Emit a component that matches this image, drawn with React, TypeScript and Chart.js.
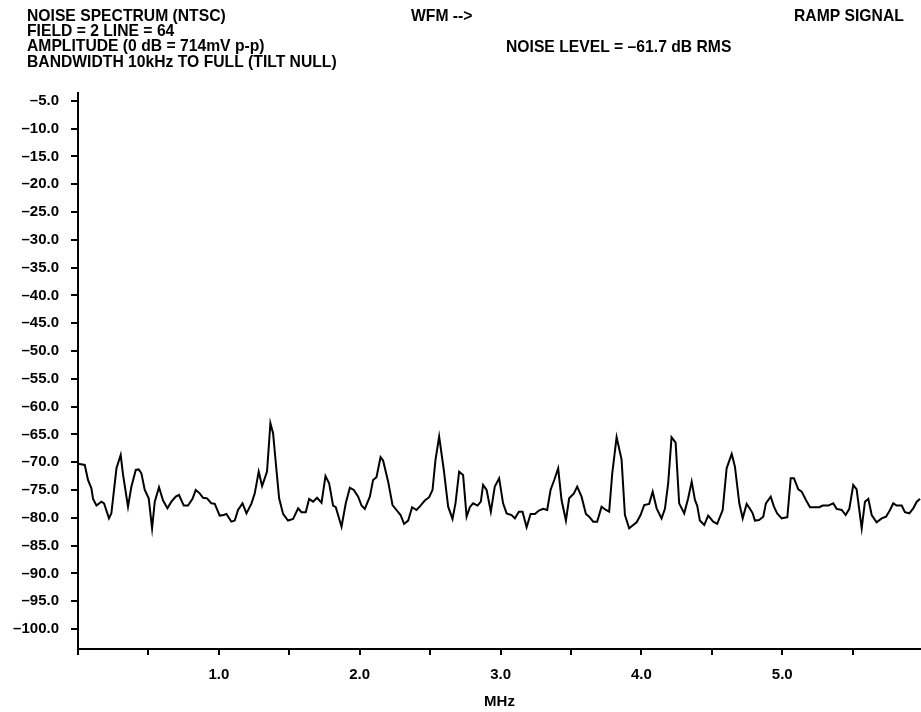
import React, { useEffect, useRef } from "react";
import { Chart, registerables } from "chart.js";

Chart.register(...registerables);

const freqMHz = [
  0.0, 0.048, 0.071, 0.095, 0.107, 0.131, 0.166, 0.185, 0.22, 0.237, 0.273, 0.303, 0.32, 0.355, 0.379, 0.41,
  0.431, 0.45, 0.474, 0.502, 0.526, 0.545, 0.575, 0.604, 0.635, 0.663, 0.694, 0.717, 0.751, 0.781, 0.813, 0.836,
  0.864, 0.888, 0.916, 0.947, 0.971, 1.006, 1.035, 1.054, 1.089, 1.113, 1.136, 1.168, 1.196, 1.232, 1.255, 1.283,
  1.307, 1.342, 1.366, 1.385, 1.409, 1.428, 1.456, 1.491, 1.527, 1.563, 1.587, 1.617, 1.641, 1.669, 1.697, 1.729,
  1.757, 1.783, 1.811, 1.83, 1.871, 1.901, 1.93, 1.958, 1.989, 2.013, 2.036, 2.072, 2.095, 2.119, 2.148, 2.166,
  2.202, 2.233, 2.261, 2.29, 2.315, 2.344, 2.372, 2.403, 2.432, 2.462, 2.493, 2.517, 2.538, 2.564, 2.597, 2.628,
  2.659, 2.68, 2.706, 2.734, 2.759, 2.782, 2.805, 2.837, 2.86, 2.876, 2.901, 2.931, 2.959, 2.99, 3.018, 3.043,
  3.078, 3.102, 3.13, 3.156, 3.185, 3.213, 3.244, 3.272, 3.303, 3.331, 3.355, 3.381, 3.409, 3.433, 3.464, 3.487,
  3.521, 3.544, 3.575, 3.606, 3.629, 3.658, 3.686, 3.717, 3.748, 3.771, 3.793, 3.824, 3.859, 3.883, 3.913, 3.942,
  3.966, 3.994, 4.02, 4.055, 4.08, 4.108, 4.143, 4.167, 4.19, 4.214, 4.243, 4.268, 4.304, 4.332, 4.357, 4.38,
  4.396, 4.415, 4.446, 4.474, 4.51, 4.538, 4.577, 4.605, 4.641, 4.664, 4.695, 4.719, 4.747, 4.771, 4.79, 4.806,
  4.835, 4.865, 4.884, 4.918, 4.941, 4.964, 4.996, 5.036, 5.06, 5.083, 5.114, 5.138, 5.168, 5.197, 5.232, 5.263,
  5.287, 5.327, 5.362, 5.386, 5.422, 5.45, 5.476, 5.504, 5.528, 5.547, 5.564, 5.587, 5.611, 5.635, 5.67, 5.706,
  5.737, 5.765, 5.788, 5.812, 5.848, 5.871, 5.902, 5.93, 5.955, 5.978,
];

const levelDb = [
  -70.3, -70.5, -73.2, -74.7, -76.6, -77.8, -77.1, -77.4, -80.1, -79.2, -71.1, -68.7, -72.3, -78.0, -74.4, -71.4,
  -71.3, -72.0, -75.0, -76.5, -81.9, -77.1, -74.5, -76.9, -78.3, -77.1, -76.2, -75.9, -77.8, -77.8, -76.6, -75.0,
  -75.6, -76.4, -76.5, -77.4, -77.5, -79.6, -79.5, -79.3, -80.7, -80.5, -78.6, -77.4, -79.2, -77.4, -75.6, -71.7,
  -74.3, -71.7, -63.0, -64.8, -71.4, -76.5, -79.3, -80.5, -80.2, -78.3, -79.0, -79.0, -76.6, -77.1, -76.4, -77.3,
  -72.5, -73.8, -77.8, -78.1, -81.6, -77.4, -74.6, -75.0, -76.2, -77.8, -78.4, -76.2, -73.2, -72.7, -69.1, -69.7,
  -73.5, -77.7, -78.6, -79.5, -81.1, -80.5, -78.1, -78.6, -77.8, -76.9, -76.3, -75.0, -69.6, -65.4, -71.4, -78.0,
  -80.2, -77.4, -71.7, -72.3, -79.8, -78.1, -77.4, -77.8, -77.1, -74.1, -75.0, -78.9, -74.4, -72.9, -77.4, -79.2,
  -79.5, -80.1, -78.9, -78.9, -81.7, -79.3, -79.3, -78.7, -78.4, -78.6, -75.0, -73.2, -71.1, -76.8, -80.5, -76.5,
  -75.6, -74.4, -76.2, -79.3, -79.8, -80.7, -80.7, -78.0, -78.6, -78.9, -72.0, -65.5, -69.5, -79.5, -81.9, -81.3,
  -80.8, -79.5, -77.7, -77.5, -75.3, -78.3, -80.1, -78.4, -73.8, -65.5, -66.5, -77.4, -79.2, -76.5, -73.5, -76.8,
  -77.8, -80.5, -81.3, -79.6, -80.7, -81.1, -78.6, -71.1, -68.5, -70.8, -77.4, -80.1, -77.5, -78.4, -79.2, -80.5,
  -80.4, -79.8, -77.4, -76.2, -78.0, -79.2, -80.1, -79.9, -72.9, -72.9, -74.9, -75.3, -76.8, -78.1, -78.1, -78.1,
  -77.8, -77.8, -77.4, -78.4, -78.6, -79.5, -78.4, -74.1, -74.9, -78.6, -81.9, -77.1, -76.6, -79.5, -80.8, -80.1,
  -79.8, -78.6, -77.4, -77.8, -77.8, -79.0, -79.2, -78.3, -77.1, -76.6,
];

const yTickValues = [-5, -10, -15, -20, -25, -30, -35, -40, -45, -50, -55, -60, -65, -70, -75, -80, -85, -90, -95, -100];
const xTickValues = [0, 0.5, 1, 1.5, 2, 2.5, 3, 3.5, 4, 4.5, 5, 5.5];
const xLabelValues = [1, 2, 3, 4, 5];

const headerLeft = [
  "NOISE SPECTRUM (NTSC)",
  "FIELD = 2 LINE = 64",
  "AMPLITUDE (0 dB = 714mV p-p)",
  "BANDWIDTH 10kHz TO FULL (TILT NULL)",
];
const headerCenter = "WFM -->";
const headerRight = "RAMP SIGNAL";
const noiseLevelText = "NOISE LEVEL = \u201361.7 dB RMS";
const xAxisTitle = "MHz";

const FONT = '"Liberation Sans", Arial, Helvetica, sans-serif';

const headerPlugin = {
  id: "headerText",
  afterDraw(chart: any) {
    const ctx = chart.ctx as CanvasRenderingContext2D;
    ctx.save();
    ctx.fillStyle = "#000";
    ctx.font = `bold 15.7px ${FONT}`;
    ctx.textBaseline = "alphabetic";
    ctx.textAlign = "left";
    headerLeft.forEach((t, i) => ctx.fillText(t, 27, 20.5 + i * 15.4));
    ctx.fillText(headerCenter, 411, 21);
    ctx.fillText(headerRight, 794, 20.5);
    ctx.fillText(noiseLevelText, 506, 51.5);
    ctx.restore();
  },
};

export default function App() {
  const canvasRef = useRef<HTMLCanvasElement | null>(null);

  useEffect(() => {
    const canvas = canvasRef.current;
    if (!canvas) return;
    Chart.defaults.font.family = FONT;
    Chart.defaults.color = "#000";

    const points = freqMHz.map((f, i) => ({ x: f, y: levelDb[i] }));

    const chart = new Chart(canvas, {
      type: "line",
      data: {
        datasets: [
          {
            data: points,
            borderColor: "#000",
            borderWidth: 2,
            pointRadius: 0,
            tension: 0,
            fill: false,
          },
        ],
      },
      options: {
        responsive: false,
        animation: false,
        devicePixelRatio: 1,
        layout: { padding: { top: 93, left: 0, right: 0, bottom: 0 } },
        plugins: {
          legend: { display: false },
          tooltip: { enabled: false },
          title: { display: false },
        },
        scales: {
          x: {
            type: "linear",
            min: 0,
            max: 5.985,
            afterBuildTicks: (axis: any) => {
              axis.ticks = xTickValues.map((v) => ({ value: v }));
            },
            afterFit: (axis: any) => {
              axis.height = 63;
            },
            ticks: {
              autoSkip: false,
              maxRotation: 0,
              padding: 11,
              color: "#000",
              font: { family: FONT, size: 15, weight: "bold" },
              callback: (v: any) => (xLabelValues.includes(Number(v)) ? Number(v).toFixed(1) : ""),
            },
            grid: {
              drawOnChartArea: false,
              drawTicks: true,
              tickLength: 6,
              color: "#000",
              lineWidth: 2,
            },
            border: { display: true, color: "#000", width: 2 },
            title: {
              display: true,
              text: xAxisTitle,
              color: "#000",
              font: { family: FONT, size: 15, weight: "bold" },
              padding: { top: 0, bottom: 1 },
            },
          },
          y: {
            type: "linear",
            min: -103.6,
            max: -3.6,
            afterBuildTicks: (axis: any) => {
              axis.ticks = yTickValues.map((v) => ({ value: v }));
            },
            afterFit: (axis: any) => {
              axis.width = 78;
            },
            ticks: {
              autoSkip: false,
              padding: 12,
              color: "#000",
              font: { family: FONT, size: 15, weight: "bold" },
              callback: (v: any) => "\u2013" + Math.abs(Number(v)).toFixed(1),
            },
            grid: {
              drawOnChartArea: false,
              drawTicks: true,
              tickLength: 7,
              color: "#000",
              lineWidth: 2,
            },
            border: { display: true, color: "#000", width: 2 },
          },
        },
      },
      plugins: [headerPlugin],
    });

    return () => chart.destroy();
  }, []);

  return (
    <div style={{ position: "fixed", left: 0, top: 0, width: 921, height: 712, background: "#fff" }}>
      <canvas ref={canvasRef} width={921} height={712} style={{ display: "block", width: 921, height: 712 }} />
    </div>
  );
}
